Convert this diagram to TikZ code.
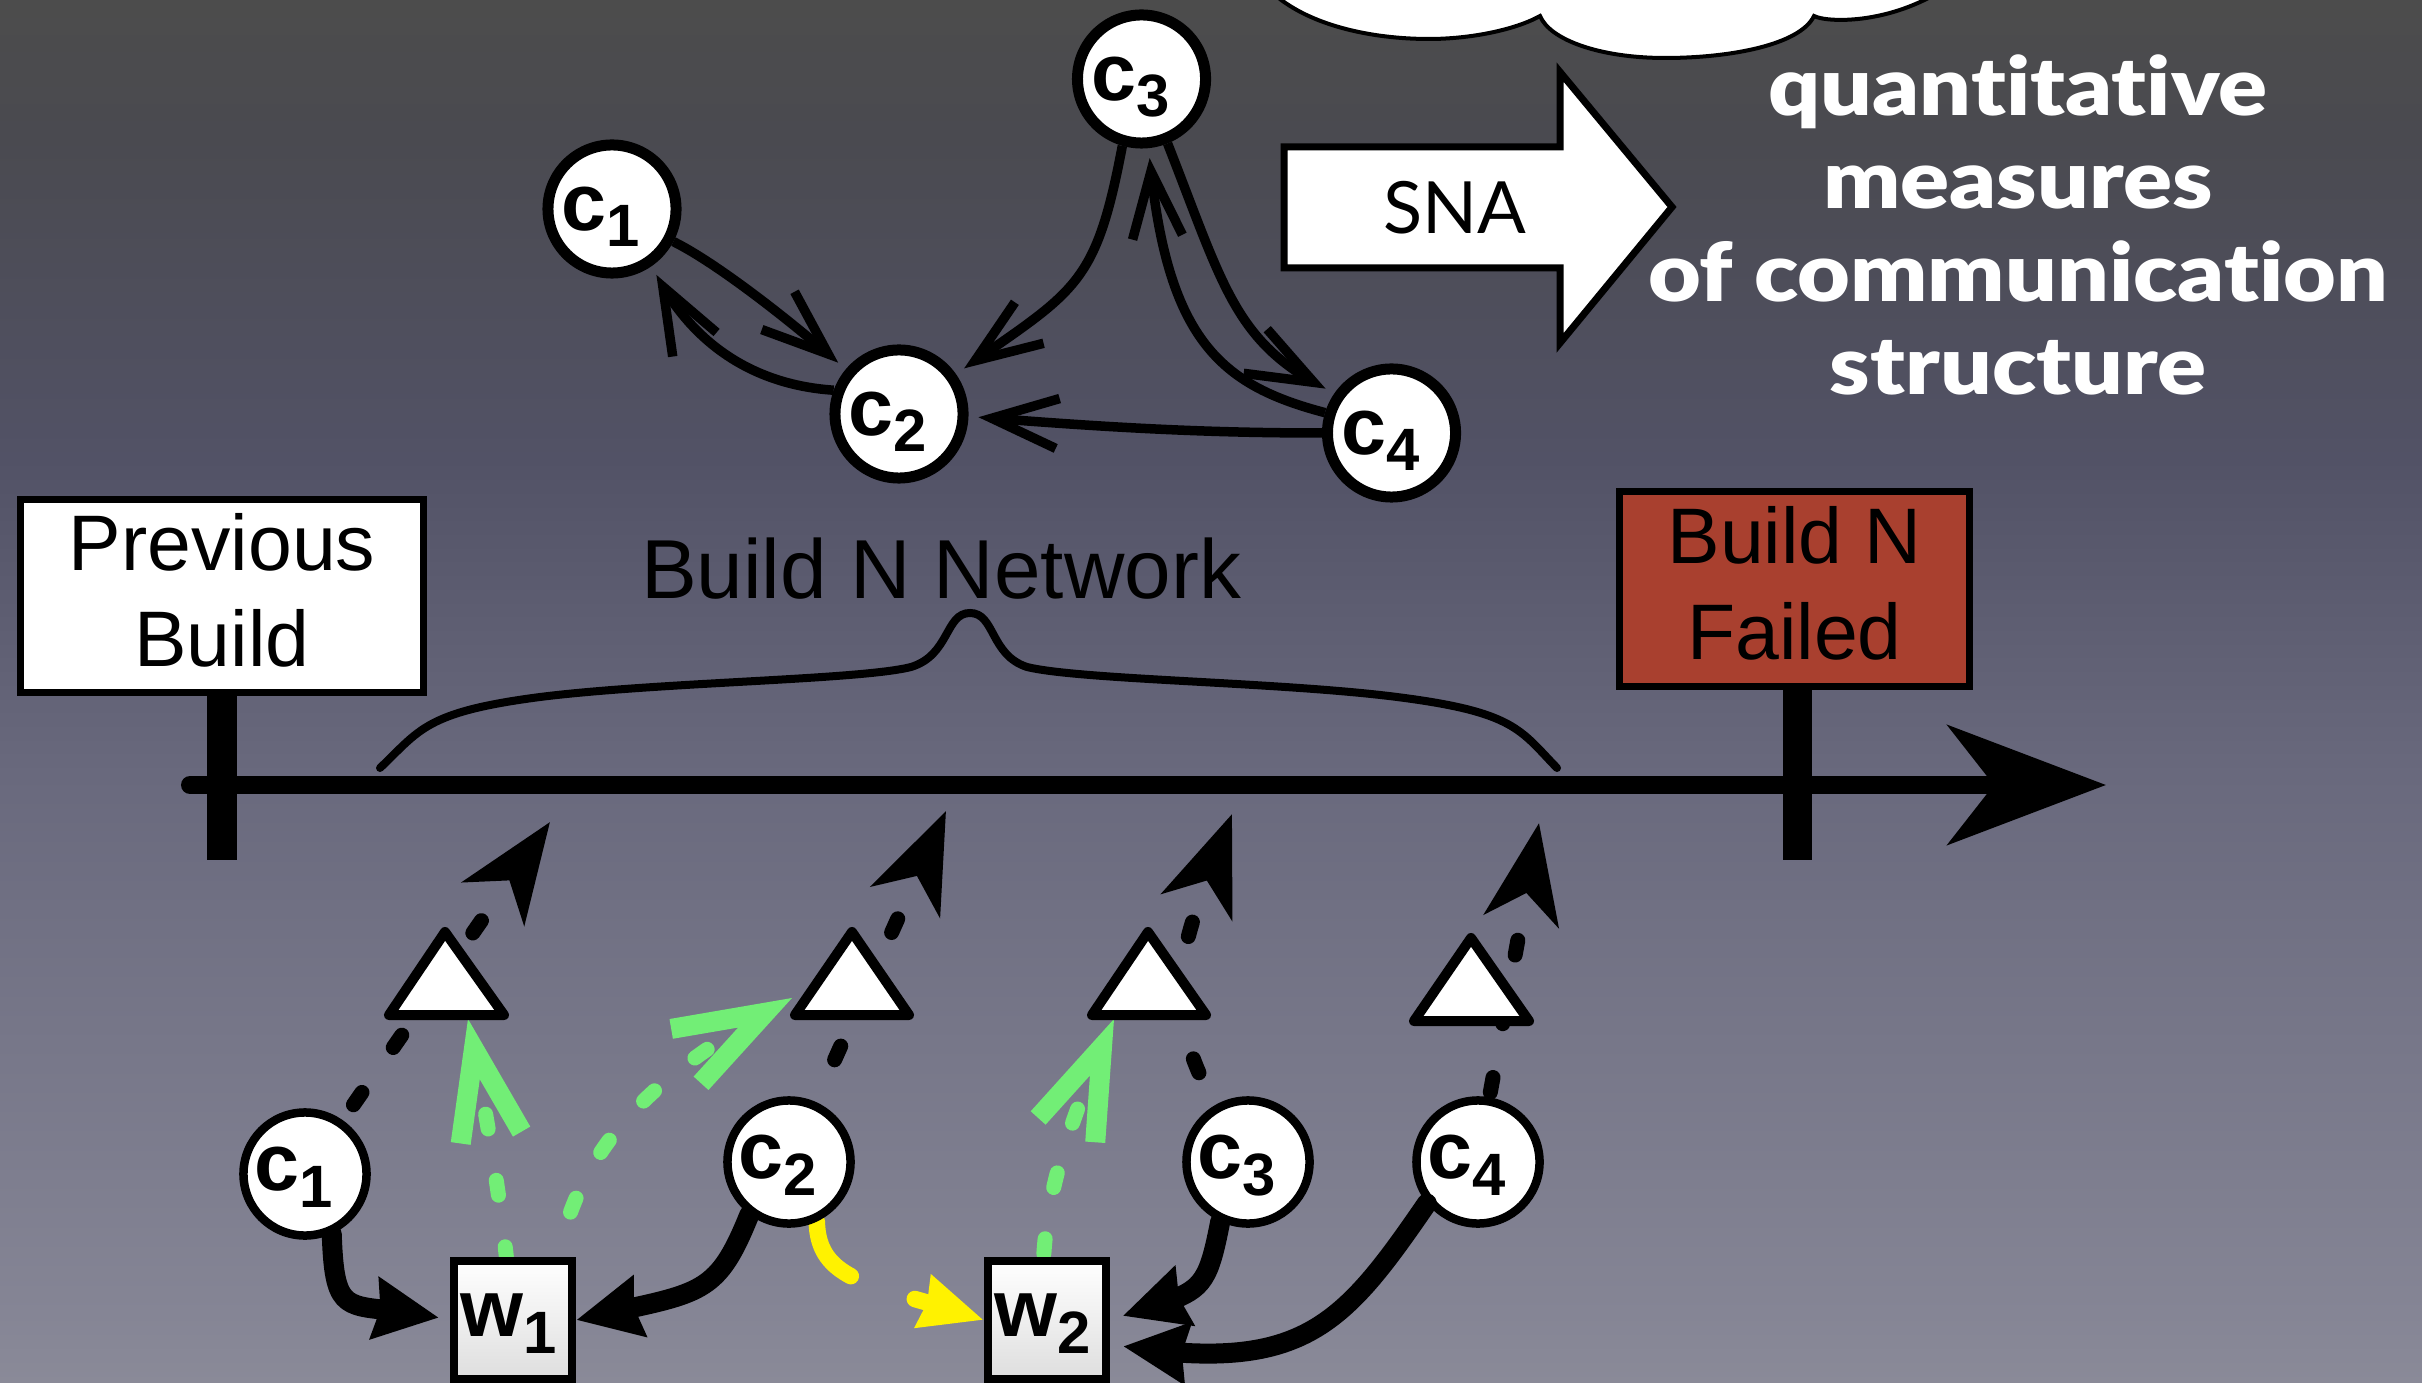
\documentclass[tikz,border=0pt]{standalone}
\usepackage{fontspec}
\setmainfont{Liberation Sans}
\newfontfamily\gill{Lato}
\newfontfamily\gillheavy[UprightFont=* Black,Ligatures=NoCommon]{Lato}
\usetikzlibrary{arrows.meta,bending}
\definecolor{greenarrow}{HTML}{72EE76}
\definecolor{brick}{HTML}{A9402F}
\definecolor{c0}{HTML}{4C4C4C}
\definecolor{c1}{HTML}{4A4A50}
\definecolor{c2}{HTML}{525266}
\definecolor{c3}{HTML}{69697D}
\definecolor{c4}{HTML}{858595}
\definecolor{c5}{HTML}{8A8A98}
\pgfdeclarelayer{edges}
\pgfsetlayers{edges,main}
\pgfdeclareverticalshading{slidebg}{100bp}{
  color(0bp)=(c5);
  color(25bp)=(c5);
  color(27.5bp)=(c4);
  color(47bp)=(c3);
  color(58.4bp)=(c2);
  color(70bp)=(c1);
  color(75bp)=(c0);
  color(100bp)=(c0)}
% #1 letter, #2 digit, #3 baseline drop, #4 trailing kern
\newcommand{\labx}[4]{\raisebox{-#3}[0pt][0pt]{\textbf{#1}\raisebox{-4.8pt}{\fontsize{17}{17}\selectfont\textbf{#2}}\hspace*{#4}}}
\newcommand{\lab}[2]{\labx{#1}{#2}{6pt}{6.3pt}}
\newcommand{\labl}[2]{\labx{#1}{#2}{4.6pt}{6.3pt}}
\newcommand{\labw}[2]{\labx{#1}{#2}{4.8pt}{2.6pt}}
\tikzset{
  person/.style={circle,draw=black,fill=white,inner sep=0pt,font=\fontsize{23}{24}\selectfont},
  persontop/.style={person,minimum size=1.28cm,line width=.11cm},
  personlow/.style={person,minimum size=1.23cm,line width=.085cm},
  workitem/.style={rectangle,draw=black,line width=.085cm,minimum size=1.18cm,inner sep=0pt,top color=white,bottom color=black!13,font=\fontsize{23}{24}\selectfont},
  change/.style={draw=black,fill=white,line width=.1cm,line join=round},
  buildbox/.style={rectangle,draw=black,line width=.07cm,inner sep=0pt},
  boxtext/.style={align=center,font=\fontsize{22.4}{27.3}\selectfont,yshift=.06cm},
  talk/.style={draw=black,line width=.095cm,-{Straight Barb[length=.66cm,width=.5cm,line width=.095cm]},shorten >=.1cm},
  thick arrow/.style={draw=black,line width=.2cm,line cap=round,-{Stealth[length=.64cm,width=.6cm,inset=.05cm]}},
  commit/.style={draw=black,line width=.15cm,line cap=round,dash pattern=on .15cm off .547cm,-{Stealth[length=.99cm,width=.75cm,inset=.28cm]}},
  greenlink/.style={draw=greenarrow,line width=.15cm,line cap=round,dash pattern=on .15cm off .52cm,-{Straight Barb[length=.9cm,width=.62cm,line width=.2cm]}},
  yellowlink/.style={draw=yellow,line width=.165cm,line cap=round,dash pattern=on .68cm off .68cm,-{Stealth[length=.62cm,width=.52cm,inset=.03cm]}},
}
\begin{document}
\begin{tikzpicture}[x=.01cm,y=-.01cm]
\useasboundingbox (0,0) rectangle (2422,1383);
\begin{pgfonlayer}{edges}
\shade[shading=slidebg] (0,0) rectangle (2422,1383);
\end{pgfonlayer}
% cloud
\filldraw[fill=white,draw=black,line width=.04cm] (1275,-5) .. controls (1310,25) and (1370,39) .. (1429,39) .. controls (1470,39) and (1515,30) .. (1540,16) .. controls (1550,40) and (1600,58) .. (1665,58) .. controls (1730,58) and (1800,45) .. (1814,16) .. controls (1825,22) and (1880,25) .. (1934,-5) -- cycle;
% SNA arrow
\filldraw[fill=white,draw=black,line width=.07cm,miter limit=10] (1284,147) -- (1560,147) -- (1560,72) -- (1672,207) -- (1560,343) -- (1560,268) -- (1284,268) -- cycle;
\node[font=\gill\fontsize{20.5}{24}\selectfont] (sna) at (1455,208) {SNA};
\node[text=white,align=center,xscale=1.125,font=\gillheavy\fontsize{23}{26.4}\selectfont] (measures) at (2018,225) {quantitative\\measures\\of communication\\structure};
% network nodes
\node[persontop] (c1) at (612,209) {\lab{c}{1}};
\node[persontop] (c2) at (899,414) {\lab{c}{2}};
\node[persontop] (c3) at (1141.5,79) {\lab{c}{3}};
\node[persontop] (c4) at (1391.5,433) {\lab{c}{4}};
\begin{pgfonlayer}{edges}
\draw[talk] (c1.-28) .. controls (715,262) and (790,320) .. (c2.140);
\draw[talk] (c2.160) .. controls (755,385) and (690,345) .. (c1.-55);
\draw[talk] (c3.-106) .. controls (1095,290) and (1075,290) .. (c2.35);
\draw[talk] (c4.163) .. controls (1220,385) and (1165,340) .. (c3.-84);
\draw[talk] (c3.-68) .. controls (1225,290) and (1235,345) .. (c4.145);
\draw[talk] (c4.180) .. controls (1200,433) and (1100,427) .. (c2.-2);
\end{pgfonlayer}
% build boxes
\node[buildbox,fill=white,minimum width=4.02cm,minimum height=1.92cm,label={[boxtext]center:Previous\\Build}] (prev) at (222,596) {};
\node[buildbox,fill=brick,minimum width=3.5cm,minimum height=1.94cm,label={[boxtext]center:Build N\\Failed}] (fail) at (1794.5,589) {};
\node[font=\fontsize{23.8}{27}\selectfont] (netlabel) at (941,569) {Build N Network};
% timeline
\coordinate (tstart) at (190,785);
\coordinate (tend) at (2106,785);
\coordinate (ptick) at (222,860);
\coordinate (ftick) at (1797,860);
\draw[line width=.18cm,line cap=round,-{Stealth[length=1.58cm,width=1.19cm,inset=.46cm]}] (tstart) -- (tend);
\draw[line width=.29cm] (prev.south) -- (ptick);
\draw[line width=.29cm] (fail.south -| ftick) -- (ftick);
% brace
\draw[line width=.08cm,line cap=round] (380,768) .. controls (420,730) and (425,712) .. (540,697) .. controls (660,682) and (860,680) .. (911,667) .. controls (950,655) and (945,613) .. (970,613) .. controls (995,613) and (990,655) .. (1027,667) .. controls (1080,680) and (1280,682) .. (1397,697) .. controls (1515,712) and (1520,730) .. (1557,768);
% lower nodes
\node[personlow] (d1) at (305,1174) {\labl{c}{1}};
\node[personlow] (d2) at (789,1162) {\labl{c}{2}};
\node[personlow] (d3) at (1248,1162) {\labl{c}{3}};
\node[personlow] (d4) at (1478,1162) {\labl{c}{4}};
\node[workitem] (w1) at (513,1320) {\labw{w}{1}};
\node[workitem] (w2) at (1047,1320) {\labw{w}{2}};
% change triangles
\draw[change] (445,932) -- (504,1015) -- (389,1015) -- cycle;
\draw[change] (852,932) -- (909,1015) -- (795,1015) -- cycle;
\draw[change] (1148,932) -- (1206,1015) -- (1092,1015) -- cycle;
\draw[change] (1471,938) -- (1529,1021) -- (1414,1021) -- cycle;
\coordinate (h1) at (550,822);
\coordinate (h2) at (946,811);
\coordinate (h3) at (1232,814);
\coordinate (h4) at (1539,823);
\coordinate (g1) at (468,1019);
\coordinate (g2) at (792,998);
\coordinate (g3) at (1114,1019);
\begin{pgfonlayer}{edges}
\draw[commit,dash phase=.51cm] (d1.55) -- (h1);
\draw[commit,dash phase=.236cm] (d2.66) -- (h2);
\draw[commit,dash phase=.336cm] (d3.120) .. controls (1150,990) and (1190,930) .. (h3);
\draw[commit,dash phase=.647cm] (d4.80) -- (h4);
\draw[greenlink,dash phase=.05cm] (w1.96) .. controls (500,1200) and (488,1120) .. (g1);
\draw[greenlink,dash phase=.205cm] (w1.55.6) .. controls (580,1160) and (630,1085) .. (g2);
\draw[greenlink,dash phase=.64cm] (w2.93) .. controls (1048,1180) and (1075,1110) .. (g3);
\draw[yellowlink] (d2.-65) .. controls (818,1285) and (880,1285) .. (w2.west);
\draw[thick arrow,shorten >=.11cm] (d1.-66) .. controls (335,1330) and (350,1297) .. (w1.west);
\draw[thick arrow] (d2.-127) .. controls (715,1300) and (700,1292) .. (w1.east);
\draw[thick arrow,shorten >=.13cm] (d3.-115) .. controls (1205,1300) and (1200,1290) .. (w2.east);
\end{pgfonlayer}
\draw[thick arrow,shorten >=.13cm] (d4.-141) .. controls (1340,1330) and (1300,1375) .. (w2.-21);
\end{tikzpicture}
\end{document}
